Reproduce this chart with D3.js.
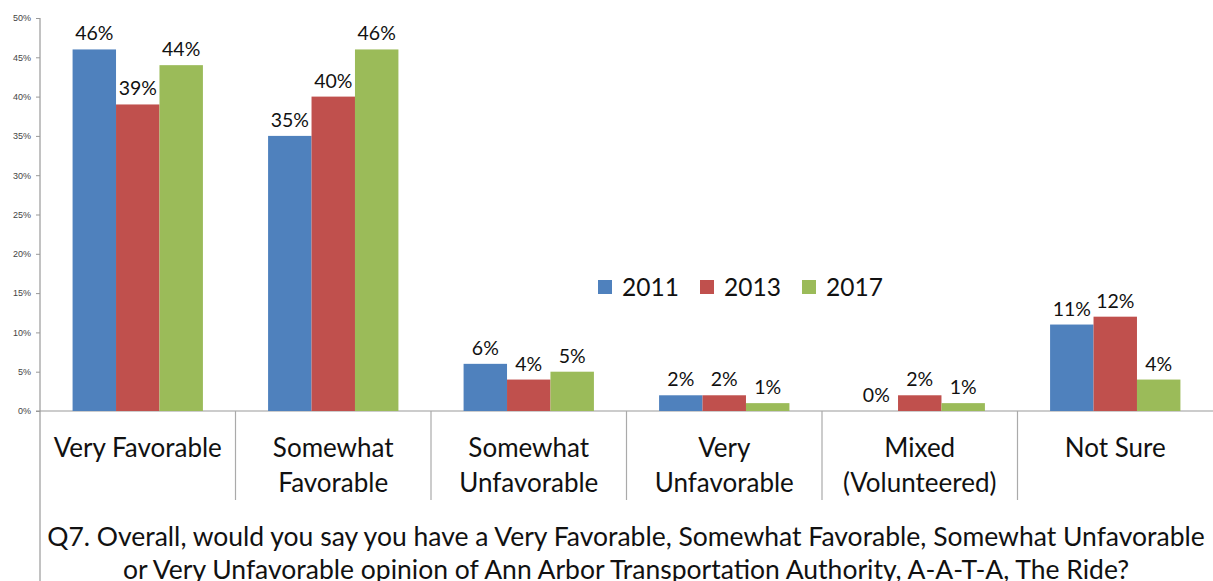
<!DOCTYPE html>
<html>
<head>
<meta charset="utf-8">
<script src="https://cdn.jsdelivr.net/npm/d3@7"></script>
<style>
  body { margin: 0; background: #fff; }
  svg { display: block; font-family: Lato, "Open Sans", sans-serif; }
</style>
</head>
<body>
<svg id="chart" width="1213" height="581"></svg>
<script>
var categories = [["Very Favorable"], ["Somewhat", "Favorable"], ["Somewhat", "Unfavorable"],
  ["Very", "Unfavorable"], ["Mixed", "(Volunteered)"], ["Not Sure"]];
var years = ["2011", "2013", "2017"];
var v2011 = [46, 35, 6, 2, 0, 11];
var v2013 = [39, 40, 4, 2, 2, 12];
var v2017 = [44, 46, 5, 1, 1, 4];
var yTicks = [0, 5, 10, 15, 20, 25, 30, 35, 40, 45, 50];
var colors = ["#4f81bd", "#c0504d", "#9bbb59"];
var titleLines = ["Q7. Overall, would you say you have a Very Favorable, Somewhat Favorable, Somewhat Unfavorable",
  "or Very Unfavorable opinion of Ann Arbor Transportation Authority, A-A-T-A, The Ride?"];

var series = [v2011, v2013, v2017];
var svg = d3.select("#chart");
var mLeft = 40, mRight = 1213, mTop = 18, mBottom = 411;

var x = d3.scaleBand().domain(d3.range(categories.length)).range([mLeft, mRight]);
var xi = d3.scaleBand().domain(years).range([0, x.bandwidth()]).paddingOuter(0.75).paddingInner(0);
var y = d3.scaleLinear().domain([0, 50]).range([mBottom, mTop]);

// y axis
var yAxis = svg.append("g").attr("transform", "translate(" + mLeft + ",0)")
  .call(d3.axisLeft(y).tickValues(yTicks).tickSize(4).tickFormat(function (d) { return d + "%"; }));
yAxis.select(".domain").remove();
yAxis.selectAll("line").attr("stroke", "#999");
yAxis.selectAll("text").attr("font-size", 9).attr("fill", "#444").attr("x", -9)
  .attr("font-family", "Liberation Sans, sans-serif");
svg.append("line").attr("x1", mLeft).attr("x2", mLeft).attr("y1", mTop).attr("y2", 581)
  .attr("stroke", "#999").attr("stroke-width", 1.2);

// x axis line and separators
svg.append("line").attr("x1", mLeft - 4).attr("x2", mRight).attr("y1", mBottom).attr("y2", mBottom)
  .attr("stroke", "#999").attr("stroke-width", 1.2);
svg.selectAll(".sep").data(d3.range(1, categories.length)).enter().append("line")
  .attr("x1", function (d) { return x(d); }).attr("x2", function (d) { return x(d); })
  .attr("y1", mBottom).attr("y2", 500).attr("stroke", "#aaa").attr("stroke-width", 1.2);

// bars
var groups = svg.selectAll(".grp").data(categories).enter().append("g")
  .attr("transform", function (d, i) { return "translate(" + x(i) + ",0)"; });
years.forEach(function (yr, s) {
  groups.append("rect")
    .attr("x", xi(yr))
    .attr("width", xi.bandwidth())
    .attr("y", function (d, i) { return y(series[s][i]); })
    .attr("height", function (d, i) { return mBottom - y(series[s][i]); })
    .attr("fill", colors[s]);
  groups.append("text")
    .attr("x", xi(yr) + xi.bandwidth() / 2)
    .attr("y", function (d, i) { return y(series[s][i]) - 9; })
    .attr("text-anchor", "middle").attr("font-size", 19.5).attr("fill", "#111")
    .text(function (d, i) { return series[s][i] + "%"; });
});

// category labels
groups.each(function (d) {
  var g = d3.select(this);
  d.forEach(function (line, k) {
    g.append("text").attr("x", x.bandwidth() / 2).attr("y", 457 + k * 35)
      .attr("text-anchor", "middle").attr("font-size", 26).attr("fill", "#111").text(line);
  });
});

// legend
var lg = svg.append("g").attr("transform", "translate(598,280)");
var lx = [0, 102, 204];
years.forEach(function (yr, s) {
  lg.append("rect").attr("x", lx[s]).attr("y", 0).attr("width", 14).attr("height", 14).attr("fill", colors[s]);
  lg.append("text").attr("x", lx[s] + 24).attr("y", 16).attr("font-size", 24.5).attr("fill", "#111").text(yr);
});

// title
titleLines.forEach(function (t, k) {
  svg.append("text").attr("x", 626).attr("y", 546 + k * 33).attr("text-anchor", "middle")
    .attr("font-size", 26.5).attr("fill", "#111").text(t);
});
</script>
</body>
</html>
